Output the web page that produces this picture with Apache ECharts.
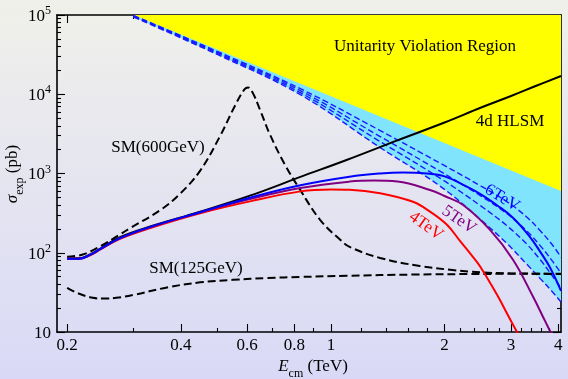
<!DOCTYPE html>
<html><head><meta charset="utf-8">
<script src="https://cdn.jsdelivr.net/npm/echarts@6/dist/echarts.min.js"></script>
<style>html,body{margin:0;padding:0;}#c{width:568px;height:379px;}</style>
</head><body><div id="c"></div>
<script>
// ---- tick values (TeV / pb) ----
const xTickValues = [0.2, 0.4, 0.6, 0.8, 1, 2, 3, 4];
const xMinorTicks = [0.3, 0.5, 0.7, 0.9, 1.2, 1.4, 1.6, 1.8, 2.2, 2.4, 2.6, 2.8, 3.2, 3.4, 3.6, 3.8];
const yTickValues = [10, 100, 1000, 10000, 100000];
const yMinorTicks = [20,30,40,50,60,70,80,90,200,300,400,500,600,700,800,900,2000,3000,4000,5000,6000,7000,8000,9000,20000,30000,40000,50000,60000,70000,80000,90000];
const xRange = [0.188, 4.07];
const yRange = [10, 100000];

// ---- unitarity bound ----
const E_unit = [0.3, 4.07];
const S_unit = [100000, 600];

// ---- blue dashed bands ----
const E_dash = [0.3, 0.5, 0.83, 1.35, 1.95, 2.5, 2.93, 3.3, 3.58, 3.85, 4.07];
const S_dash1 = [98560, 34640, 11740, 3483, 1342, 692, 439, 283, 191, 128, 88];
const S_dash2 = [97140, 33650, 11080, 2926, 1064, 518, 310, 189, 124, 80, 55.5];
const S_dash3 = [95740, 32690, 10450, 2530, 868, 387, 218, 129, 82.5, 52, 35.9];
const S_dash4 = [94360, 31760, 9865, 2126, 688, 258, 130, 72, 47.5, 32.7, 23.9];

// ---- 4d HLSM ----
const E_hlsm = [0.2, 0.215, 0.23, 0.245, 0.276, 0.332, 0.45, 0.61, 0.83, 1.1, 1.5, 2.0, 2.5, 3.0, 3.5, 4.07];
const S_hlsm = [85, 85, 95, 113, 157, 214, 330, 525, 905, 1480, 2620, 4400, 6800, 9500, 12800, 17000];

// ---- 6 TeV ----
const E_6 = [0.2, 0.215, 0.23, 0.245, 0.276, 0.332, 0.45, 0.61, 0.83, 1.12, 1.35, 1.55, 1.8, 2.0, 2.24, 2.49, 2.76, 3.04, 3.37, 3.58, 3.8, 4.07];
const S_6 = [84, 84, 94, 112, 153, 212, 325, 495, 710, 910, 1000, 1030, 1000, 920, 720, 550, 395, 275, 158, 104, 66, 33];

// ---- 5 TeV ----
const E_5 = [0.2, 0.215, 0.23, 0.245, 0.276, 0.332, 0.45, 0.61, 0.83, 1.12, 1.3, 1.5, 1.83, 2.0, 2.24, 2.64, 3.04, 3.43, 3.7, 3.86];
const S_5 = [84, 84, 94, 111, 152, 210, 322, 475, 655, 790, 815, 790, 620, 520, 400, 194, 81, 28, 13.5, 9];

// ---- 4 TeV ----
const E_4 = [0.2, 0.215, 0.23, 0.245, 0.276, 0.332, 0.45, 0.61, 0.83, 1.0, 1.12, 1.35, 1.65, 1.83, 2.03, 2.2, 2.38, 2.49, 2.76, 2.95, 3.13];
const S_4 = [84, 84, 93, 110, 150, 205, 315, 445, 595, 630, 625, 565, 440, 330, 225, 140, 88, 66, 29, 16, 9.5];

// ---- SM(600GeV) ----
const E_sm600 = [0.2, 0.22, 0.245, 0.276, 0.294, 0.353, 0.399, 0.45, 0.509, 0.558, 0.59, 0.603, 0.62, 0.649, 0.69, 0.756, 0.829, 0.936, 1.058, 1.124, 1.35, 1.72, 2.07, 2.49, 2.98, 4.07];
const S_sm600 = [89, 95, 121, 170, 205, 345, 560, 1080, 3000, 7300, 11500, 12200, 10500, 6340, 3070, 1283, 621, 260, 146, 118, 86, 68, 61, 56.5, 55, 54];

// ---- SM(125GeV) ----
const E_sm125 = [0.2, 0.213, 0.234, 0.25, 0.27, 0.3, 0.368, 0.45, 0.55, 0.68, 0.83, 1.1, 1.65, 2.49, 4.07];
const S_sm125 = [36, 31, 27, 26.4, 27, 29.4, 36.5, 42.3, 45.5, 47.9, 49.5, 51.2, 53, 54, 54.5];

const L = Math.log10;
const pts = (E, S) => E.map((e, i) => [L(e), L(S[i])]);
const FONT = 'Liberation Serif';

function fmtX(v) {
  let best = xTickValues[0];
  xTickValues.forEach(t => { if (Math.abs(L(t) - v) < Math.abs(L(best) - v)) best = t; });
  return String(best);
}
function xAxisDef(pos, ticks, len, labels, line) {
  return {
    type: 'value', min: L(xRange[0]), max: L(xRange[1]), position: pos,
    axisLine: { show: line, onZero: false, lineStyle: { color: '#000', width: 1.6 } },
    splitLine: { show: false },
    axisTick: { show: true, inside: true, length: len, customValues: ticks.map(L), lineStyle: { color: '#000', width: 1.1 } },
    axisLabel: labels ? { show: true, customValues: ticks.map(L), formatter: fmtX, color: '#000', fontFamily: FONT, fontSize: 17, margin: 5 } : { show: false }
  };
}
function yAxisDef(pos, ticks, len, labels, line) {
  return {
    type: 'value', min: L(yRange[0]), max: L(yRange[1]), position: pos,
    axisLine: { show: line, onZero: false, lineStyle: { color: '#000', width: 1.6 } },
    splitLine: { show: false },
    axisTick: { show: true, inside: true, length: len, customValues: ticks.map(L), lineStyle: { color: '#000', width: 1.1 } },
    axisLabel: labels ? {
      show: true, customValues: ticks.map(L), margin: 6,
      formatter: v => { const n = Math.round(v); return n === 1 ? '{b|10}' : '{b|10}{s|' + n + '}'; },
      rich: {
        b: { fontFamily: FONT, fontSize: 17, color: '#000', lineHeight: 20, verticalAlign: 'bottom' },
        s: { fontFamily: FONT, fontSize: 12, color: '#000', lineHeight: 20, verticalAlign: 'top' }
      }
    } : { show: false }
  };
}

function lineSeries(name, E, S, color, width, type, z) {
  return {
    type: 'line', name, data: pts(E, S), showSymbol: false, symbol: 'none',
    smooth: 0.4, z: z || 3, silent: true,
    lineStyle: { color, width, type: type || 'solid' }
  };
}

const chart = echarts.init(document.getElementById('c'), null, { renderer: 'canvas' });
chart.setOption({
  animation: false,
  backgroundColor: { type: 'linear', x: 0, y: 0, x2: 0, y2: 1, colorStops: [{ offset: 0, color: '#f0f0ea' }, { offset: 1, color: '#d9d9f7' }] },
  grid: { left: 57, right: 7, top: 15, bottom: 47, containLabel: false },
  xAxis: [
    xAxisDef('bottom', xTickValues, 8, true, true),
    xAxisDef('bottom', xMinorTicks, 4, false, false),
    xAxisDef('top', xTickValues, 8, false, true),
    xAxisDef('top', xMinorTicks, 4, false, false)
  ],
  yAxis: [
    yAxisDef('left', yTickValues, 8, true, true),
    yAxisDef('left', yMinorTicks, 4, false, false),
    yAxisDef('right', yTickValues, 8, false, true),
    yAxisDef('right', yMinorTicks, 4, false, false)
  ],
  series: [
    { type: 'line', data: pts(E_dash, S_dash4), showSymbol: false, symbol: 'none', smooth: 0.4, z: 1, silent: true,
      lineStyle: { width: 0 }, areaStyle: { color: '#80e4fc', opacity: 1, origin: 'end' } },
    { type: 'line', data: pts(E_unit, S_unit), showSymbol: false, symbol: 'none', z: 1, silent: true,
      lineStyle: { width: 0 }, areaStyle: { color: '#ffff00', opacity: 1, origin: 'end' } },
    lineSeries('d1', E_dash, S_dash1, '#1a1aff', 1.4, [6, 3], 2),
    lineSeries('d2', E_dash, S_dash2, '#1a1aff', 1.4, [6, 3], 2),
    lineSeries('d3', E_dash, S_dash3, '#1a1aff', 1.4, [6, 3], 2),
    lineSeries('d4', E_dash, S_dash4, '#1a1aff', 1.4, [6, 3], 2),
    lineSeries('SM125', E_sm125, S_sm125, '#000', 2, [8, 4], 3),
    lineSeries('SM600', E_sm600, S_sm600, '#000', 2, [8, 4], 3),
    lineSeries('HLSM', E_hlsm, S_hlsm, '#000', 2, 'solid', 4),
    lineSeries('4TeV', E_4, S_4, '#ff0000', 2, 'solid', 5),
    lineSeries('5TeV', E_5, S_5, '#800080', 2, 'solid', 5),
    lineSeries('6TeV', E_6, S_6, '#0000ff', 2, 'solid', 6)
  ],
  graphic: [
    { type: 'text', x: 425, y: 47, z: 20, style: { text: 'Unitarity Violation Region', font: '17px "Liberation Serif"', fill: '#000', textAlign: 'center', textVerticalAlign: 'middle' } },
    { type: 'text', x: 510, y: 122, z: 20, style: { text: '4d HLSM', font: '17px "Liberation Serif"', fill: '#000', textAlign: 'center', textVerticalAlign: 'middle' } },
    { type: 'text', x: 158, y: 148, z: 20, style: { text: 'SM(600GeV)', font: '17px "Liberation Serif"', fill: '#000', textAlign: 'center', textVerticalAlign: 'middle' } },
    { type: 'text', x: 196, y: 269, z: 20, style: { text: 'SM(125GeV)', font: '17px "Liberation Serif"', fill: '#000', textAlign: 'center', textVerticalAlign: 'middle' } },
    { type: 'text', x: 502, y: 198, rotation: -0.55, z: 20, style: { text: '6TeV', font: '17px "Liberation Serif"', fill: '#0000ff', textAlign: 'center', textVerticalAlign: 'middle' } },
    { type: 'text', x: 459, y: 220, rotation: -0.6, z: 20, style: { text: '5TeV', font: '17px "Liberation Serif"', fill: '#800080', textAlign: 'center', textVerticalAlign: 'middle' } },
    { type: 'text', x: 426, y: 226, rotation: -0.62, z: 20, style: { text: '4TeV', font: '17px "Liberation Serif"', fill: '#ff0000', textAlign: 'center', textVerticalAlign: 'middle' } },
    { type: 'text', x: 313, y: 369, z: 20, style: {
        text: '{i|E}{s|cm}{n| (TeV)}', textAlign: 'center', textVerticalAlign: 'middle',
        rich: { i: { fontFamily: FONT, fontStyle: 'italic', fontSize: 17, fill: '#000', verticalAlign: 'top', lineHeight: 18 },
                s: { fontFamily: FONT, fontSize: 12, fill: '#000', verticalAlign: 'bottom', lineHeight: 22 },
                n: { fontFamily: FONT, fontSize: 17, fill: '#000', verticalAlign: 'top', lineHeight: 18 } } } },
    { type: 'text', x: 15, y: 174, rotation: Math.PI / 2, z: 20, style: {
        text: '{i|σ}{s|exp}{n| (pb)}', textAlign: 'center', textVerticalAlign: 'middle',
        rich: { i: { fontFamily: FONT, fontStyle: 'italic', fontSize: 17, fill: '#000', verticalAlign: 'top', lineHeight: 18 },
                s: { fontFamily: FONT, fontSize: 12, fill: '#000', verticalAlign: 'bottom', lineHeight: 22 },
                n: { fontFamily: FONT, fontSize: 17, fill: '#000', verticalAlign: 'top', lineHeight: 18 } } } }
  ]
});
</script>
</body></html>
